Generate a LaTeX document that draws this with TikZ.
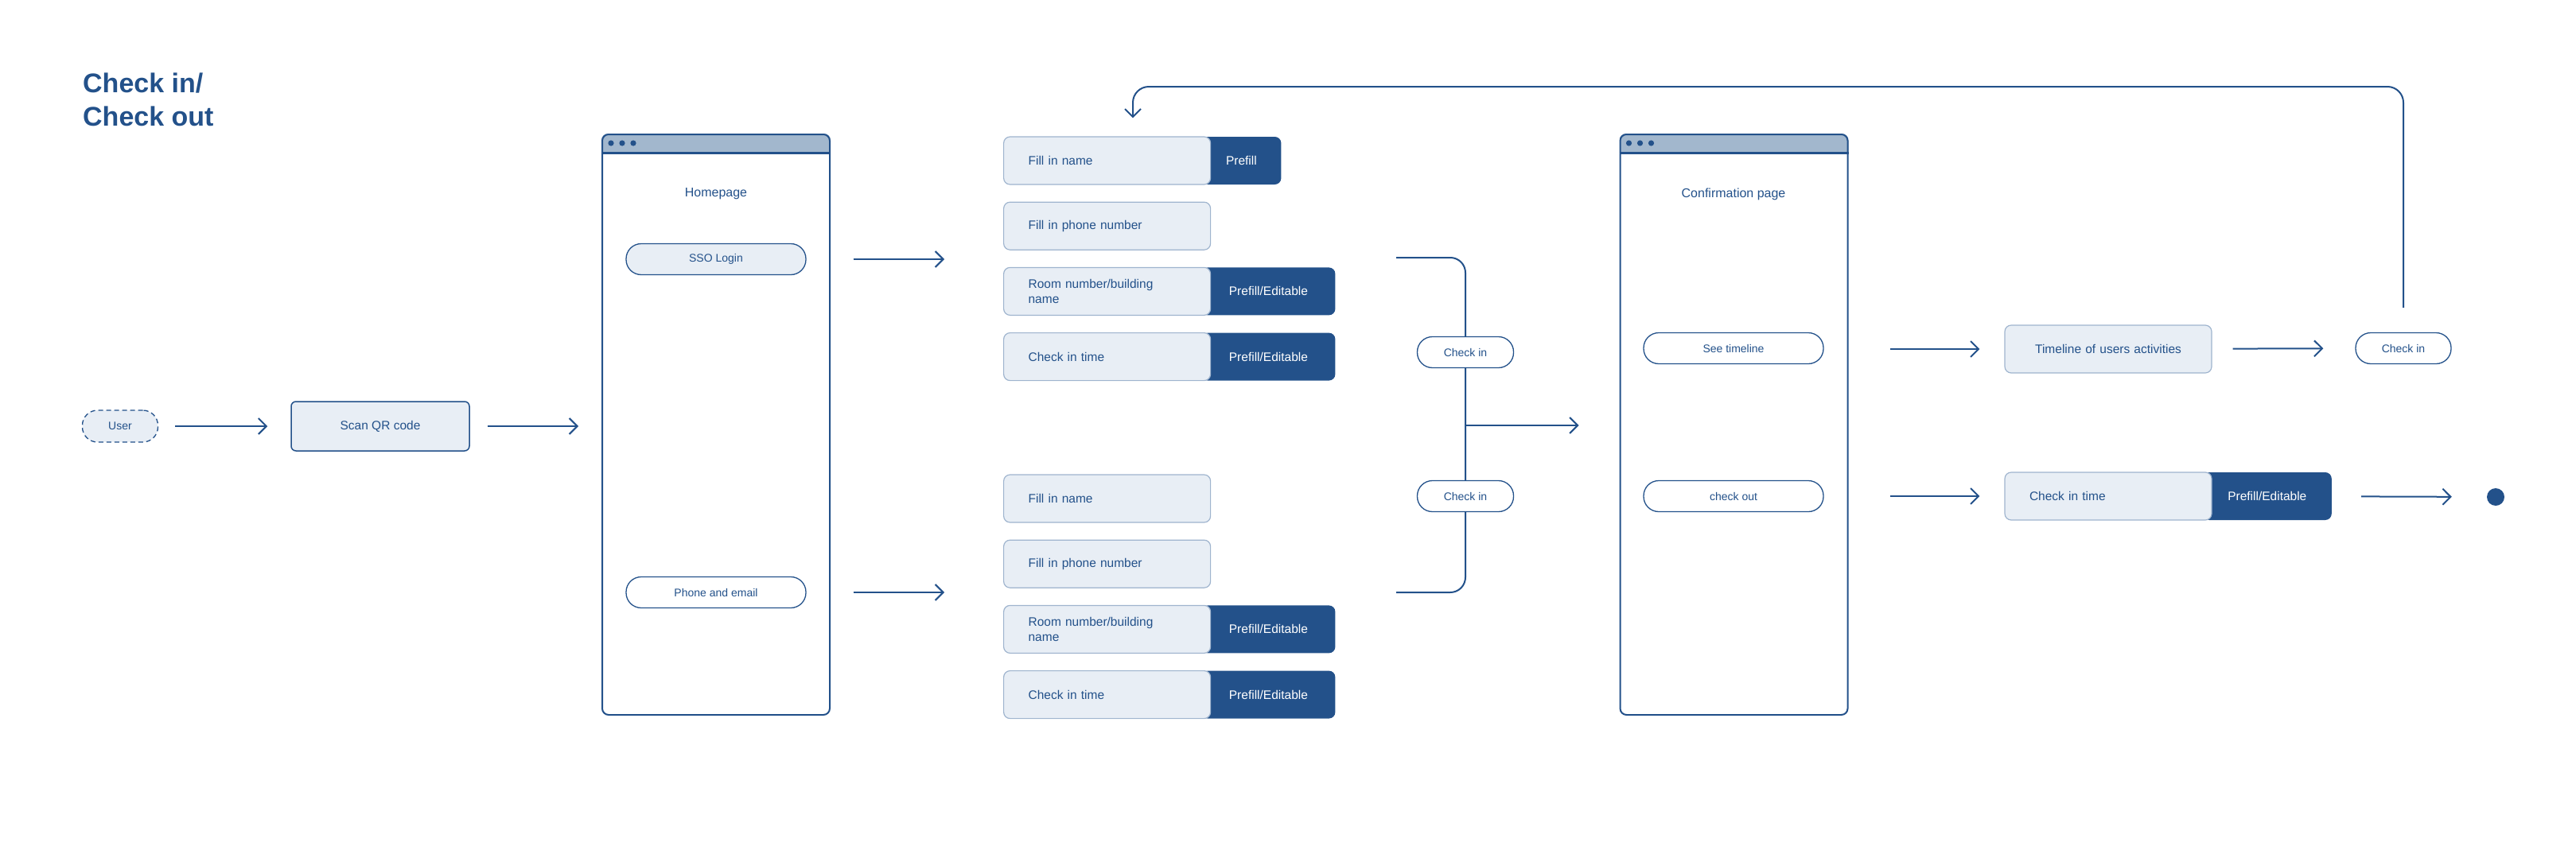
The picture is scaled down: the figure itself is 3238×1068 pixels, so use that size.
\documentclass[tikz,border=0pt]{standalone}
\usepackage{fontspec}
\setmainfont{Liberation Sans}
\usetikzlibrary{positioning}
\usetikzlibrary{arrows.meta}
\usetikzlibrary{backgrounds}

\definecolor{ckblue}{HTML}{23518A}
\definecolor{cklight}{HTML}{E8EEF5}
\definecolor{ckline}{HTML}{9FB4CE}
\definecolor{ckbar}{HTML}{A2B7CD}

\tikzset{
    pill/.style={rectangle, rounded corners=19pt, minimum width=226pt, minimum height=39pt, draw=ckblue, line width=1.3pt, fill=white, text=ckblue, font=\fontsize{14}{17}\selectfont},
    field/.style={rectangle, rounded corners=8pt, minimum width=260pt, minimum height=60pt, text width=198pt, inner xsep=31pt, align=left, draw=ckline, line width=1.2pt, fill=cklight, text=ckblue, font=\fontsize{15.5}{19}\selectfont},
    tag/.style={rectangle, rounded corners=8pt, minimum height=60pt, fill=ckblue, text=white, anchor=west, font=\fontsize{15.5}{19}\selectfont},
    window/.style={rectangle, rounded corners=8pt, minimum width=286pt, minimum height=730pt, draw=ckblue, line width=2pt},
    pagelabel/.style={text=ckblue, font=\fontsize{16}{19}\selectfont},
    flow/.style={draw=ckblue, line width=2pt, -{Straight Barb[length=10pt, width=20pt]}},
    wire/.style={draw=ckblue, line width=2pt}
}

\begin{document}
\begin{tikzpicture}[x=1pt, y=-1pt]
    \useasboundingbox (0,0) rectangle (3238,1068);

    \node (title) [anchor=north west, align=left, inner sep=0pt, text=ckblue, font=\fontsize{34}{42}\selectfont\bfseries] at (104,92) {Check in/\\Check out};

    \node (user) [pill, minimum width=95pt, minimum height=40pt, fill=cklight, dash pattern=on 6pt off 4pt] at (151,536) {User};
    \node (scan) [rectangle, rounded corners=6pt, minimum width=224pt, minimum height=62pt, draw=ckblue, line width=1.5pt, fill=cklight, text=ckblue, font=\fontsize{15.5}{19}\selectfont] at (478,536) {Scan QR code};
    \draw [flow, shorten <=21pt, shorten >=29pt] (user) -- (scan);

    \node (home) [window] at (900,534) {};
    \node (homelabel) [pagelabel] at (900,244) {Homepage};
    \node (sso) [pill, fill=cklight] at (900,326) {SSO Login};
    \node (phone) [pill] at (900,745) {Phone and email};
    \draw [flow, shorten <=22pt, shorten >=29pt] (scan) -- (scan -| home.west);

    \node (name1) [field, anchor=west] at (1261,202) {Fill in name};
    \node (phone1) [field, below=21pt of name1] {Fill in phone number};
    \node (room1) [field, below=21pt of phone1] {Room number/building\\name};
    \node (time1) [field, below=21pt of room1] {Check in time};

    \node (name2) [field, anchor=west] at (1261,627) {Fill in name};
    \node (phone2) [field, below=21pt of name2] {Fill in phone number};
    \node (room2) [field, below=21pt of phone2] {Room number/building\\name};
    \node (time2) [field, below=21pt of room2] {Check in time};

    \draw [flow, shorten <=59pt, shorten >=74pt] (sso) -- (sso -| name1.west);
    \draw [flow, shorten <=59pt, shorten >=74pt] (phone) -- (phone -| name2.west);

    \coordinate (in1) at (1755,324);
    \coordinate (in2) at (1755,745);
    \coordinate (join) at (1842,535);
    \draw [wire, rounded corners=19pt] (in1) -| (join) |- (in2);
    \node (checkin1) [pill, minimum width=121pt] at (1842,443) {Check in};
    \node (checkin2) [pill, minimum width=121pt] at (1842,624) {Check in};

    \node (conf) [window] at (2179.5,534) {};
    \node (conflabel) [pagelabel] at (2179,244) {Confirmation page};
    \node (timeline) [pill] at (2179,438) {See timeline};
    \node (checkout) [pill] at (2179,624) {check out};
    \draw [flow, shorten >=51pt] (join) -- (join -| conf.west);

    \node (activity) [field, align=center] at (2650,439) {Timeline of users activities};
    \node (checkin3) [pill, minimum width=120pt] at (3021,438) {Check in};
    \node (time3) [field] at (2650,624) {Check in time};
    \node (end) [circle, fill=ckblue, minimum size=22pt, inner sep=0pt] at (3137,625) {};

    \begin{scope}[on background layer]
        \node (prefill1) [tag, minimum width=100pt] at ([xshift=-12pt]name1.east) {Prefill};
        \node (edit1) [tag, minimum width=168pt] at ([xshift=-12pt]room1.east) {Prefill/Editable};
        \node (edit2) [tag, minimum width=168pt] at ([xshift=-12pt]time1.east) {Prefill/Editable};
        \node (edit3) [tag, minimum width=168pt] at ([xshift=-12pt]room2.east) {Prefill/Editable};
        \node (edit4) [tag, minimum width=168pt] at ([xshift=-12pt]time2.east) {Prefill/Editable};
        \node (edit5) [tag, minimum width=162pt] at ([xshift=-12pt]time3.east) {Prefill/Editable};
        \foreach \w in {home, conf} {
            \begin{scope}
                \clip [rounded corners=8pt] (\w.north west) rectangle (\w.south east);
                \fill [ckbar] (\w.north west) rectangle ([yshift=-24pt]\w.north east);
            \end{scope}
        }
    \end{scope}

    \foreach \w in {home, conf} {
        \draw [ckblue, line width=3pt] ([yshift=-24pt]\w.north west) -- ([yshift=-24pt]\w.north east);
        \foreach \k in {0,1,2}
            \fill [ckblue] ([xshift=12pt+\k*14pt, yshift=-12pt]\w.north west) circle (3.6pt);
    }

    \draw [flow, shorten <=52pt, shorten >=31pt] (activity -| conf.east) -- (activity);
    \draw [flow, shorten <=26pt, shorten >=40pt] (activity) -- (checkin3);
    \draw [flow, shorten <=52pt, shorten >=31pt] (time3 -| conf.east) -- (time3);
    \draw [flow, shorten <=37pt, shorten >=44pt] (edit5) -- (end);

    \coordinate (back) at (1424,109);
    \draw [flow, rounded corners=20pt, shorten <=31pt, shorten >=23pt] (checkin3.north) |- (back) -- (back |- name1.north);
\end{tikzpicture}
\end{document}
